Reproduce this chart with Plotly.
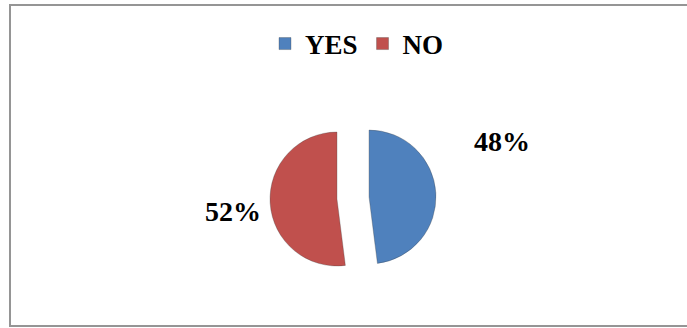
import plotly.graph_objects as go

# Survey response shares
labels = ["YES", "NO"]
values = [48, 52]
colors = ["#4F81BD", "#C0504D"]

W, H = 687, 328

# Pie box: centre and size in pixels (radius ~67, slices pulled apart)
cx, cy, box = 353, 198, 166

fig = go.Figure()
fig.add_trace(go.Pie(
    labels=labels,
    values=values,
    sort=False,
    direction="clockwise",
    rotation=0,
    pull=[0.24, 0.24],
    marker=dict(colors=colors, line=dict(color="rgba(60,60,60,0.3)", width=1)),
    textinfo="none",
    hoverinfo="label+percent",
    domain=dict(x=[(cx - box / 2) / W, (cx + box / 2) / W],
                y=[(H - cy - box / 2) / H, (H - cy + box / 2) / H]),
))

# Percent labels placed beside each slice
total = sum(values)
label_pos = {"YES": (502, 141), "NO": (233, 211)}
for lab, val in zip(labels, values):
    px, py = label_pos[lab]
    fig.add_annotation(
        x=px / W, y=1 - py / H, xref="paper", yref="paper",
        text=f"<b>{round(100 * val / total)}%</b>",
        showarrow=False, xanchor="center", yanchor="middle",
        font=dict(family="Liberation Serif", size=28, color="black"),
    )

# Chart frame
fig.add_shape(type="rect", xref="paper", yref="paper",
              x0=10 / W, x1=1.02, y0=2 / H, y1=1 - 5 / H,
              line=dict(color="#959595", width=2))

fig.update_layout(
    width=W, height=H,
    margin=dict(l=0, r=0, t=0, b=0),
    paper_bgcolor="white", plot_bgcolor="white",
    showlegend=True,
    legend=dict(
        orientation="h", x=357 / W, y=1 - 44 / H,
        xanchor="center", yanchor="middle",
        font=dict(family="Liberation Serif", size=27, color="black", weight="bold"),
        itemwidth=30, tracegroupgap=0,
    ),
)

fig.write_html("out.html")
